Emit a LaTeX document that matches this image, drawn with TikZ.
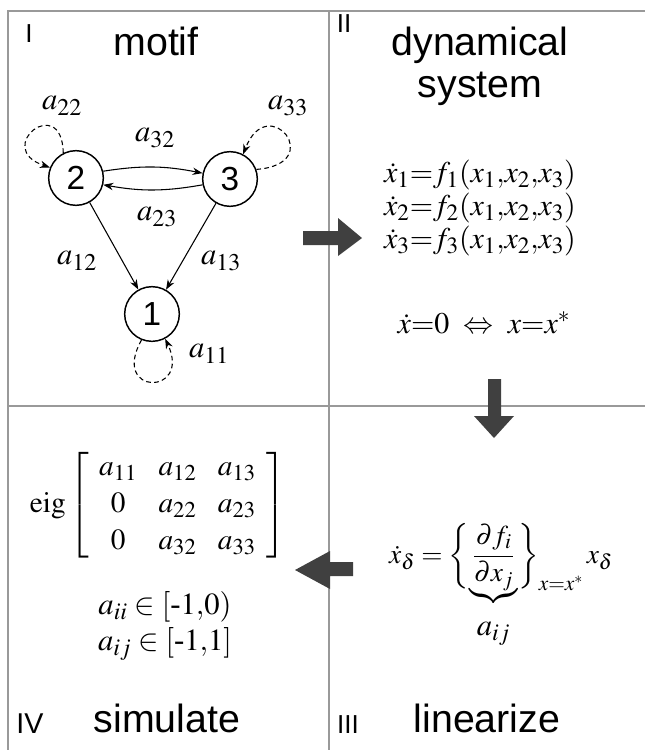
\documentclass[tikz,border=0pt]{standalone}
\usepackage{amsmath}
\usepackage{mathptmx}
\usepackage[no-math]{fontspec}
\setmainfont{Liberation Serif}
\setsansfont{Liberation Sans}
\DeclareMathSizes{22.5}{22.5}{17.5}{13}
\DeclareMathSizes{23}{23}{18}{13.5}
\DeclareMathSizes{22}{22}{17}{13}
\DeclareMathSizes{20.5}{20.5}{16}{12}
\usetikzlibrary{arrows.meta}
\begin{document}
\begin{tikzpicture}[x=0.75pt,y=-0.75pt,
  frame/.style={draw=black!40,line width=1.5pt},
  head/.style={font=\sffamily\fontsize{29.5}{32}\selectfont,anchor=base},
  roman/.style={font=\sffamily\fontsize{19.5}{22}\selectfont,anchor=base},
  state/.style={draw,circle,line width=1.1pt,minimum size=41pt,inner sep=0pt,font=\sffamily\fontsize{25}{28}\selectfont},
  edge/.style={line width=0.8pt,-{Stealth[length=7.5pt,width=5.5pt]}},
  selfloop/.style={edge,dash pattern=on 3.5pt off 2.5pt},
  lbl/.style={font=\fontsize{23}{26}\selectfont,inner sep=0pt},
  eq/.style={font=\fontsize{22.5}{26}\selectfont,inner sep=0pt,anchor=base},
  blockarrow/.style={fill=black!75,draw=none}]
\useasboundingbox (0,0) rectangle (645,750);
% frame lines
\draw[frame] (8,750) -- (8,11) -- (645,11);
\draw[frame] (329,11) -- (329,750);
\draw[frame] (8,406) -- (645,406);
% headings
\node[roman] at (29,42) {I};
\node[head] at (156,55) {motif};
\node[roman] at (344,32) {II};
\node[head] at (480,55) {dynamical};
\node[head] at (480,97) {system};
\node[roman] at (348,733) {III};
\node[head] at (487,732) {linearize};
\node[roman,font=\sffamily\fontsize{21.5}{24}\selectfont] at (30,733) {IV};
\node[head] at (167,732) {simulate};
% motif graph
\node[state] (n2) at (76,178) {2};
\node[state] (n3) at (230,179) {3};
\node[state] (n1) at (152,314) {1};
\draw[edge] (n2.14) to[bend left=10] (n3.168);
\draw[edge] (n3.192) to[bend left=10] (n2.-14);
\draw[edge] (n2) -- (n1);
\draw[edge] (n3) -- (n1);
\draw[selfloop] (n2.117) .. controls (62,92) and (-8,148) .. (n2.158);
\draw[selfloop] (n3.20) .. controls (328,164) and (268,90) .. (n3.62);
\draw[selfloop] (n1.-112) .. controls (110,396) and (192,396) .. (n1.-62);
\node[lbl] (l22) at (62,106) {$a_{22}$};
\node[lbl] (l32) at (155,138) {$a_{32}$};
\node[lbl] (l33) at (288,106) {$a_{33}$};
\node[lbl] (l23) at (157,217) {$a_{23}$};
\node[lbl] (l12) at (77,261) {$a_{12}$};
\node[lbl] (l13) at (221,261) {$a_{13}$};
\node[lbl] (l11) at (209,354) {$a_{11}$};
% dynamical system
\node[eq] (e1) at (480,182) {$\dot x_1{=}f_1(x_1{,}x_2{,}x_3)$};
\node[eq] (e2) at (480,215) {$\dot x_2{=}f_2(x_1{,}x_2{,}x_3)$};
\node[eq] (e3) at (480,248) {$\dot x_3{=}f_3(x_1{,}x_2{,}x_3)$};
\node[eq] (e4) at (484,333) {$\dot x{=}0\ \Leftrightarrow\ x{=}x^*$};
% linearize
\node[font=\fontsize{20.5}{24}\selectfont,inner sep=0pt,anchor=base] (lin) at (501,563)
  {$\displaystyle \dot x_\delta=\left\{\smash[b]{\underbrace{\frac{\partial f_i}{\partial x_j}\rule[-7pt]{0pt}{1pt}}_{\rule{0pt}{22pt}\mbox{\fontsize{23}{26}\selectfont$a_{ij}$}}}\right\}_{x=x^*} x_\delta$};
% simulate
\node[font=\fontsize{22}{28}\selectfont,inner sep=0pt] (mat) at (158,505)
  {$\mathrm{eig}\left[\renewcommand{\arraystretch}{1.0}\setlength{\arraycolsep}{8pt}\begin{array}{ccc} a_{11} & a_{12} & a_{13}\\ 0 & a_{22} & a_{23}\\ 0 & a_{32} & a_{33}\end{array}\right]$};
\node[font=\fontsize{23}{26}\selectfont,inner sep=0pt] (cii) at (165,607) {$a_{ii}\in[\mbox{-}1{,}0)$};
\node[font=\fontsize{23}{26}\selectfont,inner sep=0pt] (cij) at (165,644) {$a_{ij}\in[\mbox{-}1{,}1]$};
% block arrows
\fill[blockarrow] (303,231) -- (338,231) -- (338,218) -- (362,238) -- (338,256) -- (338,245) -- (303,245) -- cycle;
\fill[blockarrow] (488,379) -- (501,379) -- (501,416) -- (514,416) -- (494,438) -- (474,416) -- (488,416) -- cycle;
\fill[blockarrow] (353,562) -- (330,562) -- (330,551) -- (295,570) -- (330,589) -- (330,576) -- (353,576) -- cycle;
\end{tikzpicture}
\end{document}
